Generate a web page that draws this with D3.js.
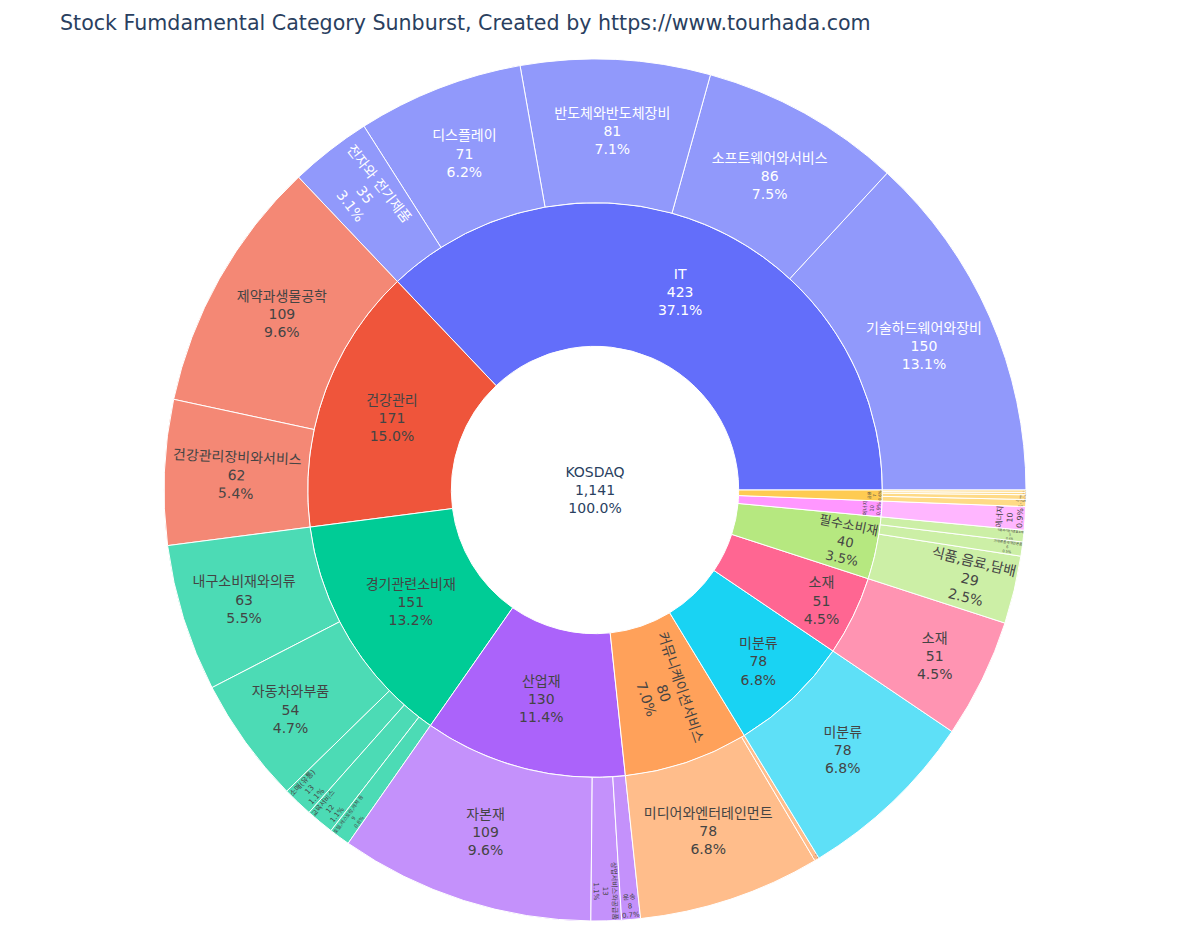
<!DOCTYPE html>
<html>
<head>
<meta charset="utf-8">
<script src="https://cdn.jsdelivr.net/npm/d3@7"></script>
<style>
  body { margin: 0; background: #fff; }
  text { font-family: Verdana, "DejaVu Sans", "Noto Sans CJK KR", sans-serif; }
</style>
</head>
<body>
<div id="chart"></div>
<script>
// data
const rootLabel = "KOSDAQ";
const sectorNames = ["IT", "건강관리", "경기관련소비재", "산업재", "커뮤니케이션서비스",
  "미분류", "소재", "필수소비재", "에너지", "금융"];
const industryNames = [
  "기술하드웨어와장비", "소프트웨어와서비스", "반도체와반도체장비", "디스플레이", "전자와 전기제품",
  "제약과생물공학", "건강관리장비와서비스",
  "내구소비재와의류", "자동차와부품", "소매(유통)", "교육서비스", "호텔,레스토랑,레저 등",
  "자본재", "상업서비스와공급품", "운송",
  "미디어와엔터테인먼트", "통신서비스",
  "미분류", "소재",
  "식품,음료,담배", "가정용품과개인용품", "식품과기본식료품소매",
  "에너지",
  "다각화된금융", "보험", "은행", "증권"
];
const industryParents = [
  "IT", "IT", "IT", "IT", "IT",
  "건강관리", "건강관리",
  "경기관련소비재", "경기관련소비재", "경기관련소비재", "경기관련소비재", "경기관련소비재",
  "산업재", "산업재", "산업재",
  "커뮤니케이션서비스", "커뮤니케이션서비스",
  "미분류", "소재",
  "필수소비재", "필수소비재", "필수소비재",
  "에너지",
  "금융", "금융", "금융", "금융"
];
const industryValues = [
  150, 86, 81, 71, 35,
  109, 62,
  63, 54, 13, 12, 9,
  109, 13, 8,
  78, 2,
  78, 51,
  29, 6, 5,
  10,
  3, 2, 1, 1
];
const palette = ["#636efa", "#EF553B", "#00cc96", "#ab63fa", "#FFA15A",
  "#19d3f3", "#FF6692", "#B6E880", "#FF97FF", "#FECB52"];

const width = 1190, height = 934;
const cx = 595, cy = 490, R = 431;
const fontSize = 14, lineGap = 1.3, TEXTPAD = 3;

// build the tree
const rows = [{ id: rootLabel, parent: "", name: rootLabel }]
  .concat(sectorNames.map(s => ({ id: s, parent: rootLabel, name: s })))
  .concat(industryNames.map((n, i) => ({
    id: industryParents[i] + "/" + n, parent: industryParents[i], name: n, value: industryValues[i]
  })));

const root = d3.stratify().id(d => d.id).parentId(d => d.parent || null)(rows)
  .sum(d => d.value || 0)
  .sort((a, b) => b.value - a.value);

d3.partition().size([2 * Math.PI, 3])(root);
const total = root.value;

root.children.forEach((c, i) => { c.color = palette[i % palette.length]; });
root.descendants().forEach(d => { if (d.depth > 1) d.color = d.parent.color; });

const rScale = d3.scaleLinear().domain([0, 3]).range([0, R]);

const svg = d3.select("#chart").append("svg")
  .attr("width", width).attr("height", height);

svg.append("text")
  .attr("x", 60).attr("y", 30)
  .attr("fill", "#2a3f5f")
  .style("font-size", "20.6px")
  .text("Stock Fumdamental Category Sunburst, Created by https://www.tourhada.com");

const g = svg.append("g").attr("transform", `translate(${cx},${cy})`);

// plotly goes counterclockwise from east, d3.arc clockwise from north
const arc = d3.arc()
  .startAngle(d => Math.PI / 2 - d.x1)
  .endAngle(d => Math.PI / 2 - d.x0)
  .innerRadius(d => rScale(d.y0))
  .outerRadius(d => rScale(d.y1));

const nodes = root.descendants();

g.selectAll("path.slice")
  .data(nodes.filter(d => d.depth > 0))
  .enter().append("path")
  .attr("class", "slice")
  .attr("d", arc)
  .attr("fill", d => d.color)
  .attr("fill-opacity", d => d.children ? 1 : 0.7)
  .attr("stroke", "#fff")
  .attr("stroke-width", 1);

function textColor(d) {
  if (d.depth === 0) return "#2a3f5f";
  const c = d3.rgb(d.color);
  const bright = (c.r * 299 + c.g * 587 + c.b * 114) / 1000;
  return bright >= 128 ? "#444" : "#fff";
}

// text fitting, same idea as plotly's pie/sunburst "auto" orientation
function calcRotate(t) { return (180 / Math.PI * t + 720) % 180 - 90; }
function calcRCenter(a, b) { return Math.cos(b) - a * b; }
function calcMaxHalfSize(a, halfAngle, r, ring) {
  const q = a + 1 / (2 * Math.tan(halfAngle));
  return r * Math.min(
    1 / (Math.sqrt(q * q + 0.5) + q),
    ring / (Math.sqrt(a * a + ring / 2) + a)
  );
}

function textTransform(d, w, h) {
  const rpx0 = rScale(d.y0), rpx1 = rScale(d.y1);
  const span = d.x1 - d.x0;
  // angle clockwise from north, like plotly
  const mid = Math.PI / 2 - (d.x0 + d.x1) / 2;
  if (d.depth === 0) {
    return { scale: Math.min(1, rpx1 * 2 / Math.hypot(w, h)), rCenter: 0, rotate: 0, r: rpx1, mid: mid };
  }
  const halfAngle = 0.5 * Math.min(span, Math.PI);
  const ring = 1 - rpx0 / rpx1;
  const rIns = Math.max(0, Math.min(1 / (1 + 1 / Math.sin(halfAngle)), ring / 2));
  const all = [];
  const hor = { scale: rIns * rpx1 * 2 / Math.hypot(w, h), rCenter: 1 - rIns, rotate: 0 };
  if (hor.scale >= 1) {
    hor.scale = 1;
  } else {
    all.push(hor);
    const r = Math.max(0, rpx1 - 2 * TEXTPAD);
    let a = h / w;
    let s = calcMaxHalfSize(a, halfAngle, r, ring);
    all.push({ scale: s * 2 / w, rCenter: calcRCenter(a, s / r), rotate: calcRotate(mid + Math.PI / 2) });
    a = w / h;
    s = calcMaxHalfSize(a, halfAngle, r, ring);
    all.push({ scale: s * 2 / h, rCenter: calcRCenter(a, s / r), rotate: calcRotate(mid) });
  }
  let best = hor;
  if (all.length) {
    let maxScale = 0;
    all.forEach(t => { if (maxScale < t.scale) { maxScale = t.scale; best = t; } });
  }
  best.scale = Math.min(1, best.scale);
  best.r = rpx1;
  best.mid = mid;
  return best;
}

const fmtVal = d3.format(",");
const labels = g.selectAll("g.label")
  .data(nodes)
  .enter().append("g")
  .attr("class", "label");

labels.each(function (d) {
  const outer = d3.select(this);
  const t = outer.append("text")
    .attr("fill", textColor(d))
    .style("font-size", fontSize + "px")
    .attr("text-anchor", "middle");
  const lines = [d.data.name, fmtVal(d.value), (d.value / total * 100).toFixed(1) + "%"];
  lines.forEach((ln, i) => {
    t.append("tspan")
      .attr("x", 0)
      .attr("y", (i - 1) * lineGap * fontSize)
      .attr("dominant-baseline", "central")
      .text(ln);
  });
  const bb = t.node().getBBox();
  t.attr("transform", `translate(${-(bb.x + bb.width / 2)},${-(bb.y + bb.height / 2)})`);

  const tr = textTransform(d, bb.width, bb.height);
  const px = tr.r * Math.sin(tr.mid) * tr.rCenter;
  const py = -tr.r * Math.cos(tr.mid) * tr.rCenter;
  outer.attr("transform", `translate(${px},${py}) rotate(${tr.rotate}) scale(${tr.scale})`);
});
</script>
</body>
</html>
